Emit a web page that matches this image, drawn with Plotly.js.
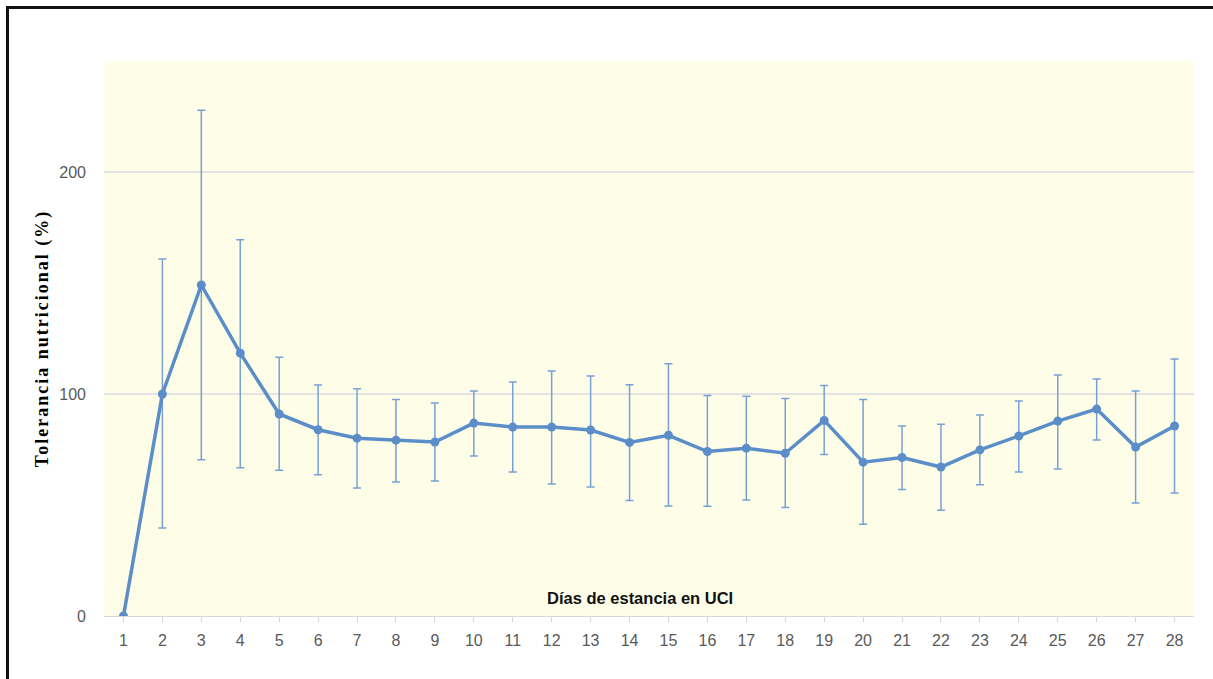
<!DOCTYPE html>
<html>
<head>
<meta charset="utf-8">
<script src="https://cdn.plot.ly/plotly-3.0.1.min.js"></script>
<style>
html,body{margin:0;padding:0;background:#fff;}
#chart{position:absolute;left:0;top:0;width:1213px;height:679px;}
#frame{position:absolute;left:6px;top:6px;width:1204px;height:700px;border-left:3px solid #111;border-top:3px solid #111;border-right:1px solid #c8c8c8;pointer-events:none;}
#chart .ytitle{letter-spacing:2px;}
</style>
</head>
<body>
<div id="chart"></div>
<div id="frame"></div>
<script>
const days = [1,2,3,4,5,6,7,8,9,10,11,12,13,14,15,16,17,18,19,20,21,22,23,24,25,26,27,28];
const tolerance = [0,100,149.1,118.4,91,83.9,80.1,79.2,78.4,86.9,85.1,85.1,83.8,78.2,81.4,74.1,75.6,73.3,88.1,69.3,71.4,67.1,74.8,81.1,87.8,93.2,76.1,85.6];
const upperBound = [0,160.8,227.8,169.5,116.6,104.1,102.4,97.5,95.9,101.4,105.4,110.4,108.1,104.2,113.6,99.3,99.0,98.0,103.8,97.5,85.6,86.4,90.5,96.8,108.6,106.8,101.4,115.8];
const lowerBound = [0,39.6,70.4,66.8,65.7,63.6,57.7,60.4,60.8,72.1,64.9,59.5,58.1,52.0,49.5,49.4,52.3,48.9,72.7,41.3,57.0,47.6,59.1,64.9,66.2,79.3,50.9,55.4];
const yTicks = [0,100,200];

const errPlus = tolerance.map((v,i)=>upperBound[i]-v);
const errMinus = tolerance.map((v,i)=>v-lowerBound[i]);

const trace = {
  x: days,
  y: tolerance,
  type: 'scatter',
  mode: 'lines+markers',
  line: {color:'#5b8ec8', width:3.5},
  marker: {color:'#5b8ec8', size:9},
  error_y: {
    type:'data', symmetric:false,
    array: errPlus, arrayminus: errMinus,
    color:'#77a1d3', thickness:1.5, width:4
  },
  hoverinfo:'x+y'
};

const layout = {
  width:1213, height:679,
  margin:{l:104, r:19, t:61, b:63},
  paper_bgcolor:'#ffffff',
  plot_bgcolor:'#fefee8',
  showlegend:false,
  xaxis:{
    range:[0.5,28.5],
    tickmode:'array', tickvals:days, ticktext:days.map(String),
    tickson:'boundaries',
    ticks:'outside', ticklen:5, tickcolor:'#d9d9d9', tickwidth:1,
    ticklabelstandoff:5,
    showline:true, linecolor:'#d9d9d9', linewidth:1,
    showgrid:false, zeroline:false,
    tickfont:{family:'Liberation Sans, Arial, sans-serif', size:16, color:'#595959'}
  },
  yaxis:{
    range:[0,250],
    tickmode:'array', tickvals:yTicks,
    showgrid:true, gridcolor:'#e3e3e3', gridwidth:1.5,
    zeroline:false, showline:false,
    ticks:'', ticklabelstandoff:17,
    tickfont:{family:'Liberation Sans, Arial, sans-serif', size:16, color:'#595959'},
    title:{text:'Tolerancia nutricional (%)', standoff:5,
      font:{family:'Liberation Serif, Times New Roman, serif', size:18, color:'#000', weight:'bold'}}
  },
  annotations:[{
    text:'<b>Días de estancia en UCI</b>',
    xref:'paper', yref:'paper', x:0.5, y:0.032, xshift:-9,
    showarrow:false, xanchor:'center', yanchor:'middle',
    font:{family:'Liberation Sans, Arial, sans-serif', size:16.5, color:'#111'}
  }]
};

Plotly.newPlot('chart',[trace],layout,{displayModeBar:false, staticPlot:true});
</script>
</body>
</html>
